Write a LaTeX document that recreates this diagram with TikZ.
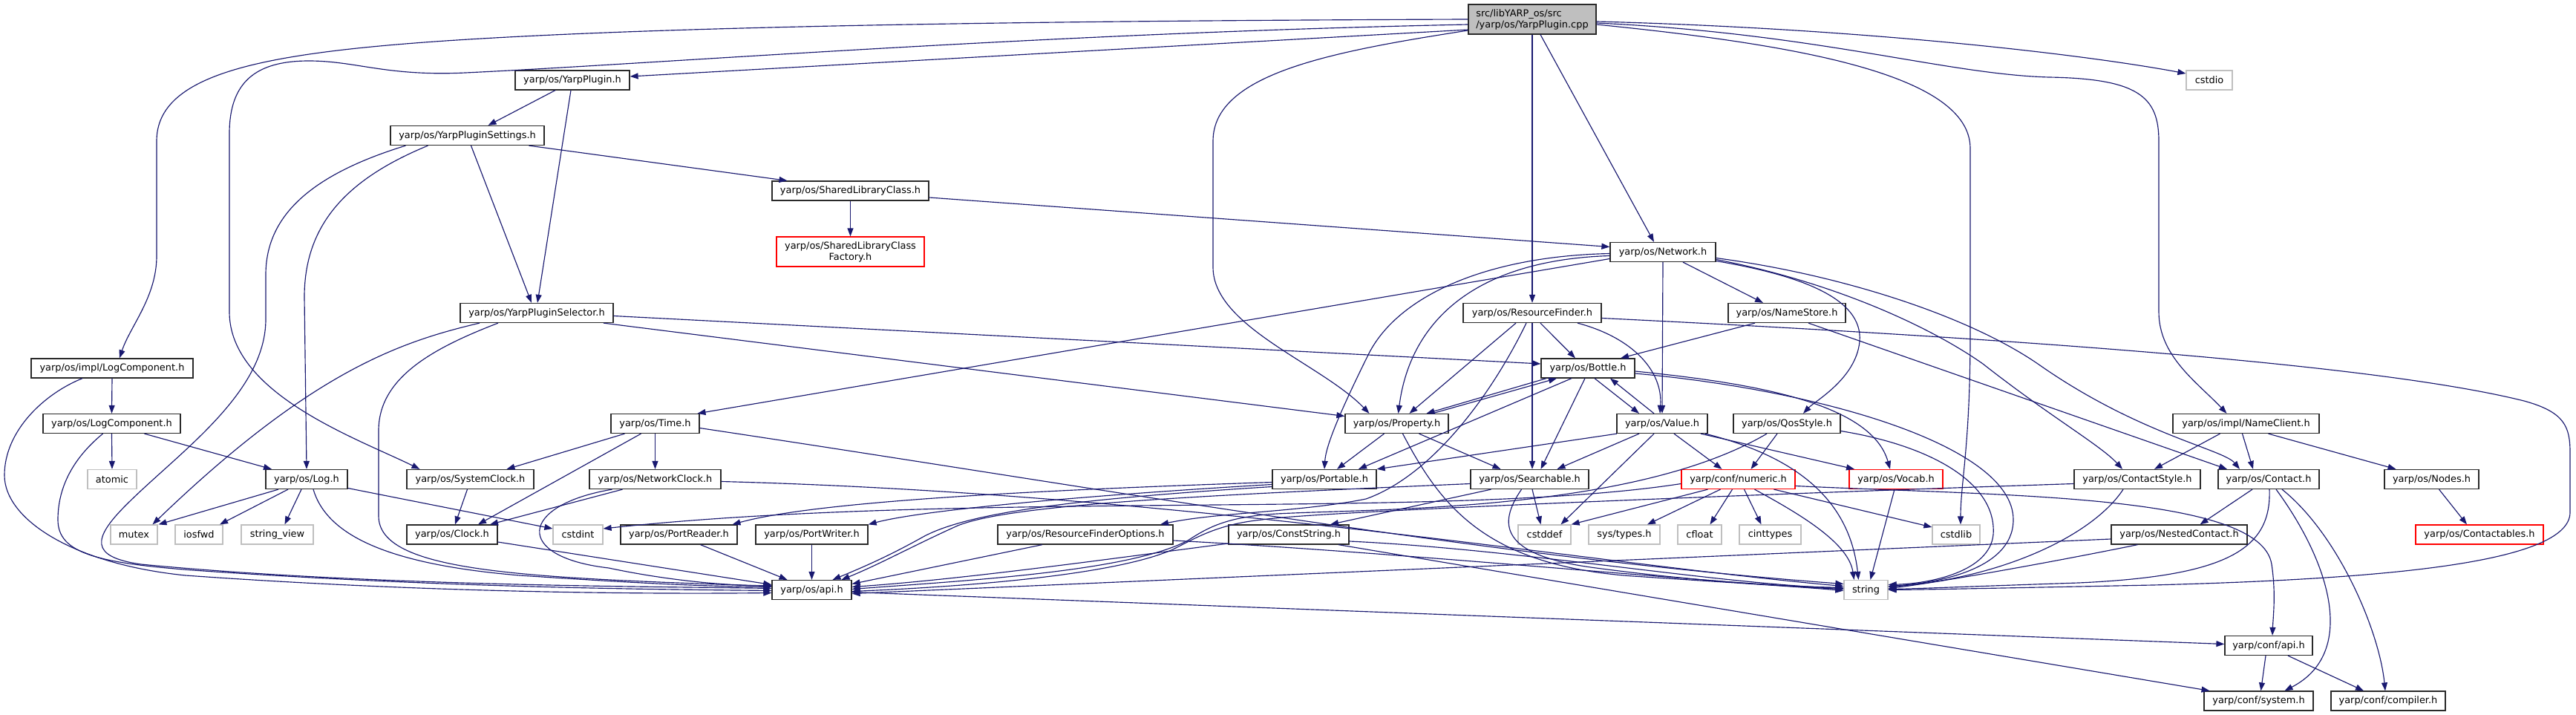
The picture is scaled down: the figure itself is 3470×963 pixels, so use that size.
\documentclass[tikz,border=0pt]{standalone}
\usepackage{fontspec}
\setmainfont{DejaVu Sans}
\usetikzlibrary{arrows.meta}
\definecolor{edgecol}{HTML}{191970}
\definecolor{greybd}{HTML}{BFBFBF}
\definecolor{rootfill}{HTML}{BFBFBF}
\definecolor{boxbd}{HTML}{2A2A2A}
\newcommand{\dxfont}{\fontsize{12.9}{15}\selectfont}
\tikzset{
 nbox/.style={draw=boxbd, line width=1.25pt, fill=white, inner sep=0pt, minimum height=26pt, font=\dxfont},
 gbox/.style={nbox, draw=greybd},
 rbox/.style={nbox, draw=red},
 dep/.style={draw=edgecol, line width=1.15pt, -{Triangle[length=11pt,width=8pt]}},
}
\begin{document}
\begin{tikzpicture}[x=1pt,y=-1pt]
\fill[white] (0,0) rectangle (3470,963);
\path[use as bounding box] (0,0) rectangle (3470,963);
% nodes
\node[nbox,minimum width=172pt,minimum height=40pt,fill=rootfill,align=left] (root) at (2064,26) {src/libYARP\_os/src\\/yarp/os/YarpPlugin.cpp};
\node[nbox,minimum width=154pt] (yph) at (771,108) {yarp/os/YarpPlugin.h};
\node[nbox,minimum width=207pt] (ypset) at (629.5,182.5) {yarp/os/YarpPluginSettings.h};
\node[nbox,minimum width=206pt] (ypsel) at (723,421.5) {yarp/os/YarpPluginSelector.h};
\node[nbox,minimum width=218pt] (ilog) at (151,496) {yarp/os/impl/LogComponent.h};
\node[nbox,minimum width=185pt] (logc) at (150.5,570.5) {yarp/os/LogComponent.h};
\node[gbox,minimum width=66pt] (atomic) at (151,645.5) {atomic};
\node[nbox,minimum width=110pt] (logh) at (413,645.5) {yarp/os/Log.h};
\node[nbox,minimum width=171pt] (sysclk) at (633.5,645.5) {yarp/os/SystemClock.h};
\node[gbox,minimum width=63pt] (mutex) at (180.5,720) {mutex};
\node[gbox,minimum width=64pt] (iosfwd) at (268,720) {iosfwd};
\node[gbox,minimum width=97pt] (strview) at (373.5,720) {string\_view};
\node[nbox,minimum width=122pt] (clock) at (609,720) {yarp/os/Clock.h};
\node[gbox,minimum width=67pt] (cstdint) at (778.5,720) {cstdint};
\node[nbox,minimum width=119pt] (timeh) at (882.5,570.5) {yarp/os/Time.h};
\node[nbox,minimum width=177pt] (netclk) at (882.5,645.5) {yarp/os/NetworkClock.h};
\node[nbox,minimum width=157pt] (preader) at (914.5,720) {yarp/os/PortReader.h};
\node[nbox,minimum width=151pt] (pwriter) at (1093.5,720) {yarp/os/PortWriter.h};
\node[nbox,minimum width=107pt] (osapi) at (1093.5,794.5) {yarp/os/api.h};
\node[nbox,minimum width=236pt] (rfopt) at (1462,720) {yarp/os/ResourceFinderOptions.h};
\node[nbox,minimum width=162pt] (cstr) at (1736,720) {yarp/os/ConstString.h};
\node[nbox,minimum width=211pt] (shlib) at (1145.5,257) {yarp/os/SharedLibraryClass.h};
\node[rbox,minimum width=199pt,minimum height=40pt,align=center] (shfac) at (1145.5,339) {yarp/os/SharedLibraryClass\\Factory.h};
\node[nbox,minimum width=142pt] (net) at (2240,339.5) {yarp/os/Network.h};
\node[nbox,minimum width=186pt] (rf) at (2064,421.5) {yarp/os/ResourceFinder.h};
\node[nbox,minimum width=158pt] (nstore) at (2407,421.5) {yarp/os/NameStore.h};
\node[nbox,minimum width=126pt] (bottle) at (2139,496) {yarp/os/Bottle.h};
\node[nbox,minimum width=139pt] (prop) at (1881.5,570.5) {yarp/os/Property.h};
\node[nbox,minimum width=122pt] (value) at (2239,570.5) {yarp/os/Value.h};
\node[nbox,minimum width=144pt] (qos) at (2407,570.5) {yarp/os/QosStyle.h};
\node[nbox,minimum width=140pt] (portable) at (1784,645.5) {yarp/os/Portable.h};
\node[nbox,minimum width=159pt] (search) at (2060.5,645.5) {yarp/os/Searchable.h};
\node[rbox,minimum width=153pt] (numeric) at (2341.5,645.5) {yarp/conf/numeric.h};
\node[rbox,minimum width=126pt] (vocab) at (2554,645.5) {yarp/os/Vocab.h};
\node[gbox,minimum width=71pt] (cstddef) at (2080.5,720) {cstddef};
\node[gbox,minimum width=96pt] (systypes) at (2188,720) {sys/types.h};
\node[gbox,minimum width=59pt] (cfloat) at (2289.5,720) {cfloat};
\node[gbox,minimum width=83pt] (cinttypes) at (2384.5,720) {cinttypes};
\node[gbox,minimum width=59pt] (string) at (2513.5,794.5) {string};
\node[gbox,minimum width=62pt] (cstdio) at (2976,108) {cstdio};
\node[nbox,minimum width=197pt] (nclient) at (3025.5,570.5) {yarp/os/impl/NameClient.h};
\node[nbox,minimum width=170pt] (cstyle) at (2879,645.5) {yarp/os/ContactStyle.h};
\node[nbox,minimum width=136pt] (contact) at (3056,645.5) {yarp/os/Contact.h};
\node[nbox,minimum width=127pt] (nodes) at (3275.5,645.5) {yarp/os/Nodes.h};
\node[gbox,minimum width=64pt] (cstdlib) at (2635,720) {cstdlib};
\node[nbox,minimum width=183pt] (nested) at (2935.5,720) {yarp/os/NestedContact.h};
\node[rbox,minimum width=172pt] (ctables) at (3340,720) {yarp/os/Contactables.h};
\node[nbox,minimum width=118pt] (capi) at (3056,869.5) {yarp/conf/api.h};
\node[nbox,minimum width=147pt] (csystem) at (3042.5,944) {yarp/conf/system.h};
\node[nbox,minimum width=154pt] (ccomp) at (3217,944) {yarp/conf/compiler.h};
% root edges
\draw[dep] ([yshift=-14pt]root.west) -- ([yshift=5pt]yph.east);
\draw[dep] (root.west) .. controls (1400,28) and (900,35) .. (600,55) .. controls (350,72) and (211,100) .. (211,190) -- (211,345) .. controls (211,400) and (175,440) .. ([xshift=10pt]ilog.north);
\draw[dep] ([yshift=-7pt]root.west) .. controls (1400,45) and (900,85) .. (627,98) .. controls (520,103) and (480,82) .. (416,82) .. controls (345,82) and (309,110) .. (309,180) -- (309,420) .. controls (309,530) and (480,590) .. ([xshift=-68pt]sysclk.north);
\draw[dep] ([yshift=-15pt]root.west) .. controls (1790,70) and (1634,100) .. (1634,190) -- (1634,360) .. controls (1634,440) and (1780,490) .. ([xshift=-37pt]prop.north);
\draw[dep] (root.south) -- (rf.north);
\draw[dep] ([xshift=11pt]root.south) -- ([xshift=-12pt]net.north);
\draw[dep] ([yshift=-3pt]root.east) .. controls (2500,38) and (2800,72) .. ([yshift=9pt]cstdio.west);
\draw[dep] ([yshift=-5pt]root.east) .. controls (2450,45) and (2620,100) .. (2760,104) .. controls (2880,106) and (2908,130) .. (2908,190) -- (2908,420) .. controls (2908,480) and (2960,515) .. ([xshift=-26pt]nclient.north);
\draw[dep] ([yshift=-7pt]root.east) .. controls (2420,60) and (2654,100) .. (2654,200) -- (2654,450) .. controls (2654,600) and (2641,650) .. ([xshift=6pt]cstdlib.north);
% YarpPlugin.h
\draw[dep] ([xshift=-23pt]yph.south) -- ([xshift=28pt]ypset.north);
\draw[dep] ([xshift=-2pt]yph.south) -- ([xshift=1pt]ypsel.north);
% YarpPluginSettings.h
\draw[dep] ([xshift=5pt]ypset.south) -- ([xshift=-7pt]ypsel.north);
\draw[dep] ([xshift=83pt]ypset.south) -- ([xshift=-85pt]shlib.north);
\draw[dep] ([xshift=-83pt]ypset.south) .. controls (420,235) and (358,290) .. (358,370) -- (358,430) .. controls (358,530) and (240,610) .. (170,680) .. controls (125,725) and (120,750) .. (190,760) .. controls (500,790) and (900,790) .. ([yshift=2pt]osapi.west);
\draw[dep] ([xshift=-53pt]ypset.south) .. controls (470,240) and (410,300) .. (410,400) -- (logh.north);
% YarpPluginSelector.h
\draw[dep] ([yshift=-4pt]ypsel.east) -- ([yshift=6pt]bottle.west);
\draw[dep] ([xshift=90pt]ypsel.south) -- ([yshift=10pt]prop.west);
\draw[dep] ([xshift=-77pt]ypsel.south) .. controls (540,460) and (420,500) .. ([xshift=25pt]mutex.north);
\draw[dep] ([xshift=-52pt]ypsel.south) .. controls (580,470) and (510,510) .. (510,580) -- (510,695) .. controls (510,770) and (700,778) .. ([yshift=5pt]osapi.west);
% LogComponent
\draw[dep] (ilog.south) -- (logc.north);
\draw[dep] ([xshift=-40pt]ilog.south) .. controls (60,530) and (6,580) .. (6,640) .. controls (6,700) and (100,760) .. (250,775) .. controls (600,800) and (900,800) .. ([yshift=-4pt]osapi.west);
\draw[dep] (logc.south) -- (atomic.north);
\draw[dep] ([xshift=44pt]logc.south) -- ([xshift=-47pt]logh.north);
\draw[dep] ([xshift=-12pt]logc.south) .. controls (95,620) and (78,660) .. (78,700) .. controls (78,745) and (130,758) .. (260,768) .. controls (600,792) and (900,794) .. ([yshift=-1pt]osapi.west);
% Log.h
\draw[dep] ([xshift=-38pt]logh.south) -- ([xshift=33pt]mutex.north);
\draw[dep] ([xshift=-25pt]logh.south) -- ([xshift=28pt]iosfwd.north);
\draw[dep] ([xshift=-7pt]logh.south) -- ([xshift=10pt]strview.north);
\draw[dep] ([yshift=-12pt]logh.east) -- ([yshift=8pt]cstdint.west);
\draw[dep] ([xshift=9pt]logh.south) .. controls (440,720) and (520,760) .. (700,775) .. controls (850,785) and (950,790) .. ([yshift=4pt]osapi.west);
% clocks
\draw[dep] ([xshift=-4pt]sysclk.south) -- ([xshift=4pt]clock.north);
\draw[dep] ([yshift=-10pt]clock.east) -- ([yshift=7pt]osapi.west);
\draw[dep] ([xshift=-41pt]timeh.south) -- ([xshift=49pt]sysclk.north);
\draw[dep] ([xshift=-19pt]timeh.south) -- ([xshift=35pt]clock.north);
\draw[dep] (timeh.south) -- (netclk.north);
\draw[dep] ([yshift=-6pt]timeh.east) .. controls (1500,660) and (2000,750) .. ([yshift=8pt]string.west);
\draw[dep] ([xshift=-44pt]netclk.south) -- ([xshift=51pt]clock.north);
\draw[dep] ([xshift=-58pt]netclk.south) .. controls (700,680) and (690,750) .. (820,765) .. controls (900,782) and (980,789) .. ([yshift=6pt]osapi.west);
\draw[dep] ([yshift=-3pt]netclk.east) .. controls (1600,665) and (2150,760) .. ([yshift=5pt]string.west);
% port reader/writer, options, conststring
\draw[dep] ([xshift=29pt]preader.south) -- ([xshift=-33pt]osapi.north);
\draw[dep] (pwriter.south) -- (osapi.north);
\draw[dep] ([xshift=-58pt]rfopt.south) -- ([yshift=8pt]osapi.east);
\draw[dep] ([yshift=-8pt]rfopt.east) .. controls (1900,745) and (2300,785) .. ([yshift=1pt]string.west);
\draw[dep] ([yshift=-12pt]cstr.west) .. controls (1500,752) and (1300,780) .. ([yshift=4pt]osapi.east);
\draw[dep] ([yshift=-9pt]cstr.east) .. controls (2050,740) and (2300,785) .. ([yshift=2pt]string.west);
\draw[dep] ([xshift=67pt]cstr.south) -- ([xshift=-66pt]csystem.north);
% shared library
\draw[dep] (shlib.south) -- (shfac.north);
\draw[dep] ([yshift=-9pt]shlib.east) -- ([yshift=7pt]net.west);
% Network.h
\draw[dep] ([yshift=-9pt]net.west) -- ([xshift=57pt]timeh.north);
\draw[dep] ([yshift=-2pt]net.west) .. controls (2000,345) and (1880,400) .. (1842,480) .. controls (1805,555) and (1786,600) .. (portable.north);
\draw[dep] ([yshift=-5pt]net.west) .. controls (1990,350) and (1900,430) .. ([xshift=2pt]prop.north);
\draw[dep] (net.south) -- (value.north);
\draw[dep] ([xshift=27pt]net.south) -- ([xshift=-32pt]nstore.north);
\draw[dep] ([yshift=-12pt]net.east) .. controls (2420,370) and (2510,400) .. (2505,460) .. controls (2500,510) and (2445,540) .. ([xshift=22pt]qos.north);
\draw[dep] ([yshift=-8pt]net.east) .. controls (2480,370) and (2650,425) .. (2745,490) .. controls (2880,585) and (2995,605) .. ([xshift=-39pt]contact.north);
\draw[dep] ([yshift=-10pt]net.east) .. controls (2470,380) and (2600,440) .. (2671,490) .. controls (2760,560) and (2830,600) .. ([xshift=-20pt]cstyle.north);
% ResourceFinder.h
\draw[dep] ([xshift=11pt]rf.south) -- ([xshift=-17pt]bottle.north);
\draw[dep] ([xshift=-22pt]rf.south) -- ([xshift=17pt]prop.north);
\draw[dep] (rf.south) -- ([xshift=3.5pt]search.north);
\draw[dep] ([xshift=61pt]rf.south) .. controls (2200,455) and (2240,500) .. ([xshift=-3pt]value.north);
\draw[dep] ([xshift=-8pt]rf.south) .. controls (2010,530) and (1930,640) .. (1840,672) .. controls (1750,690) and (1640,690) .. ([xshift=101pt]rfopt.north);
\draw[dep] ([yshift=-7pt]rf.east) .. controls (2700,455) and (3200,490) .. (3400,540) .. controls (3455,555) and (3462,575) .. (3462,610) -- (3462,690) .. controls (3462,760) and (3200,780) .. (2900,788) .. controls (2700,792) and (2600,794) .. (string.east);
% NameStore.h
\draw[dep] ([xshift=-43pt]nstore.south) -- ([xshift=44pt]bottle.north);
\draw[dep] ([xshift=29pt]nstore.south) -- ([xshift=-56pt]contact.north);
% Bottle.h / Property.h / Value.h
\draw[dep] ([xshift=-56pt]bottle.south) -- ([xshift=40pt]prop.north);
\draw[dep] ([xshift=48pt]prop.north) -- ([xshift=-42pt]bottle.south);
\draw[dep] ([xshift=-22pt]bottle.south) -- ([xshift=46pt]portable.north);
\draw[dep] ([xshift=-4pt]bottle.south) -- ([xshift=15pt]search.north);
\draw[dep] ([xshift=9pt]bottle.south) -- ([xshift=-31pt]value.north);
\draw[dep] ([xshift=-11pt]value.north) -- ([xshift=30pt]bottle.south);
\draw[dep] ([yshift=-4pt]bottle.east) .. controls (2350,515) and (2520,540) .. ([xshift=-8pt]vocab.north);
\draw[dep] ([yshift=-7pt]bottle.east) .. controls (2450,525) and (2712,600) .. (2712,700) .. controls (2712,770) and (2600,786) .. ([yshift=5pt]string.east);
\draw[dep] ([xshift=-61pt]value.south) -- (portable.north east);
\draw[dep] ([xshift=-31pt]value.south) -- ([xshift=37pt]search.north);
\draw[dep] ([xshift=-11pt]value.south) -- ([xshift=22pt]cstddef.north);
\draw[dep] ([xshift=16pt]value.south) -- ([xshift=-22pt]numeric.north);
\draw[dep] ([xshift=52pt]value.south) -- ([xshift=-56pt]vocab.north);
\draw[dep] ([xshift=58pt]value.south) .. controls (2400,610) and (2490,660) .. ([xshift=-10pt]string.north);
\draw[dep] ([xshift=-17pt]prop.south) -- ([xshift=17pt]portable.north);
\draw[dep] ([xshift=30pt]prop.south) -- ([xshift=-39pt]search.north);
\draw[dep] ([xshift=8pt]prop.south) .. controls (1940,680) and (2000,762) .. (2200,776) .. controls (2350,786) and (2420,790) .. ([yshift=-1pt]string.west);
% QosStyle.h
\draw[dep] ([xshift=-13pt]qos.south) -- ([xshift=17pt]numeric.north);
\draw[dep] ([xshift=-27pt]qos.south) .. controls (2200,690) and (1850,685) .. (1720,692) .. controls (1650,696) and (1625,712) .. (1600,728) .. controls (1520,770) and (1300,782) .. ([yshift=1pt]osapi.east);
\draw[dep] ([yshift=-10pt]qos.east) .. controls (2600,600) and (2690,650) .. (2685,720) .. controls (2680,770) and (2600,786) .. ([yshift=7pt]string.east);
% Portable.h
\draw[dep] ([yshift=-4pt]portable.west) .. controls (1400,660) and (1100,675) .. ([xshift=72pt]preader.north);
\draw[dep] ([yshift=-7pt]portable.west) .. controls (1500,665) and (1250,685) .. (pwriter.north east);
\draw[dep] ([yshift=-10pt]portable.west) .. controls (1450,672) and (1300,690) .. (1240,725) .. controls (1195,750) and (1160,765) .. ([xshift=28pt]osapi.north);
% Searchable.h
\draw[dep] ([xshift=3.5pt]search.south) -- ([xshift=-5pt]cstddef.north);
\draw[dep] ([xshift=-11pt]search.south) .. controls (2018,705) and (2018,748) .. (2150,765) .. controls (2300,785) and (2420,790) .. ([yshift=3pt]string.west);
\draw[dep] ([xshift=-52pt]search.south) -- ([xshift=56pt]cstr.north);
\draw[dep] ([yshift=-6pt]search.west) .. controls (1600,668) and (1360,680) .. (1290,708) .. controls (1230,735) and (1185,760) .. ([xshift=40pt]osapi.north);
% numeric.h
\draw[dep] ([xshift=-41pt]numeric.south) -- (cstddef.north east);
\draw[dep] ([xshift=-24pt]numeric.south) -- ([xshift=31pt]systypes.north);
\draw[dep] ([xshift=-8pt]numeric.south) -- ([xshift=14pt]cfloat.north);
\draw[dep] ([xshift=8pt]numeric.south) -- ([xshift=-12pt]cinttypes.north);
\draw[dep] ([xshift=22pt]numeric.south) .. controls (2420,690) and (2490,730) .. ([xshift=-16pt]string.north);
\draw[dep] ([xshift=48pt]numeric.south) -- ([yshift=10pt]cstdlib.west);
\draw[dep] ([yshift=-6pt]numeric.west) .. controls (1950,700) and (1300,660) .. ([yshift=8pt]cstdint.east);
\draw[dep] ([yshift=-9pt]numeric.east) .. controls (2700,668) and (3045,665) .. (3060,760) .. controls (3066,800) and (3062,830) .. ([xshift=5pt]capi.north);
% Vocab.h
\draw[dep] ([xshift=-2pt]vocab.south) -- ([xshift=6pt]string.north);
% ContactStyle.h
\draw[dep] ([xshift=-19pt]cstyle.south) .. controls (2820,720) and (2700,778) .. ([yshift=4pt]string.east);
\draw[dep] ([yshift=-6pt]cstyle.west) .. controls (2300,668) and (1760,690) .. (1700,700) .. controls (1640,706) and (1610,725) .. (1580,740) .. controls (1500,775) and (1300,790) .. ([yshift=-2pt]osapi.east);
% NameClient.h
\draw[dep] ([xshift=-35pt]nclient.south) -- ([xshift=23pt]cstyle.north);
\draw[dep] ([xshift=-5pt]nclient.south) -- ([xshift=-21pt]contact.north);
\draw[dep] ([xshift=30pt]nclient.south) -- ([xshift=-48pt]nodes.north);
% Contact.h
\draw[dep] ([xshift=-22pt]contact.south) -- ([xshift=28pt]nested.north);
\draw[dep] ([xshift=1pt]contact.south) .. controls (3060,740) and (3000,776) .. (2800,785) .. controls (2650,790) and (2580,793) .. ([yshift=1pt]string.east);
\draw[dep] ([xshift=10pt]contact.south) .. controls (3140,760) and (3175,880) .. ([xshift=35pt]csystem.north);
\draw[dep] ([xshift=18pt]contact.south) .. controls (3150,720) and (3205,850) .. ([xshift=-4pt]ccomp.north);
% NestedContact.h
\draw[dep] ([yshift=-6pt]nested.west) -- ([yshift=-5pt]osapi.east);
\draw[dep] ([xshift=-56pt]nested.south) .. controls (2750,760) and (2600,786) .. ([yshift=2pt]string.east);
% Nodes.h
\draw[dep] ([xshift=10pt]nodes.south) -- ([xshift=-17pt]ctables.north);
% api.h chain
\draw[dep] ([yshift=-3pt]osapi.east) -- ([yshift=2pt]capi.west);
\draw[dep] ([xshift=-4pt]capi.south) -- ([xshift=3pt]csystem.north);
\draw[dep] ([xshift=26pt]capi.south) -- ([xshift=-33pt]ccomp.north);
\end{tikzpicture}
\end{document}
